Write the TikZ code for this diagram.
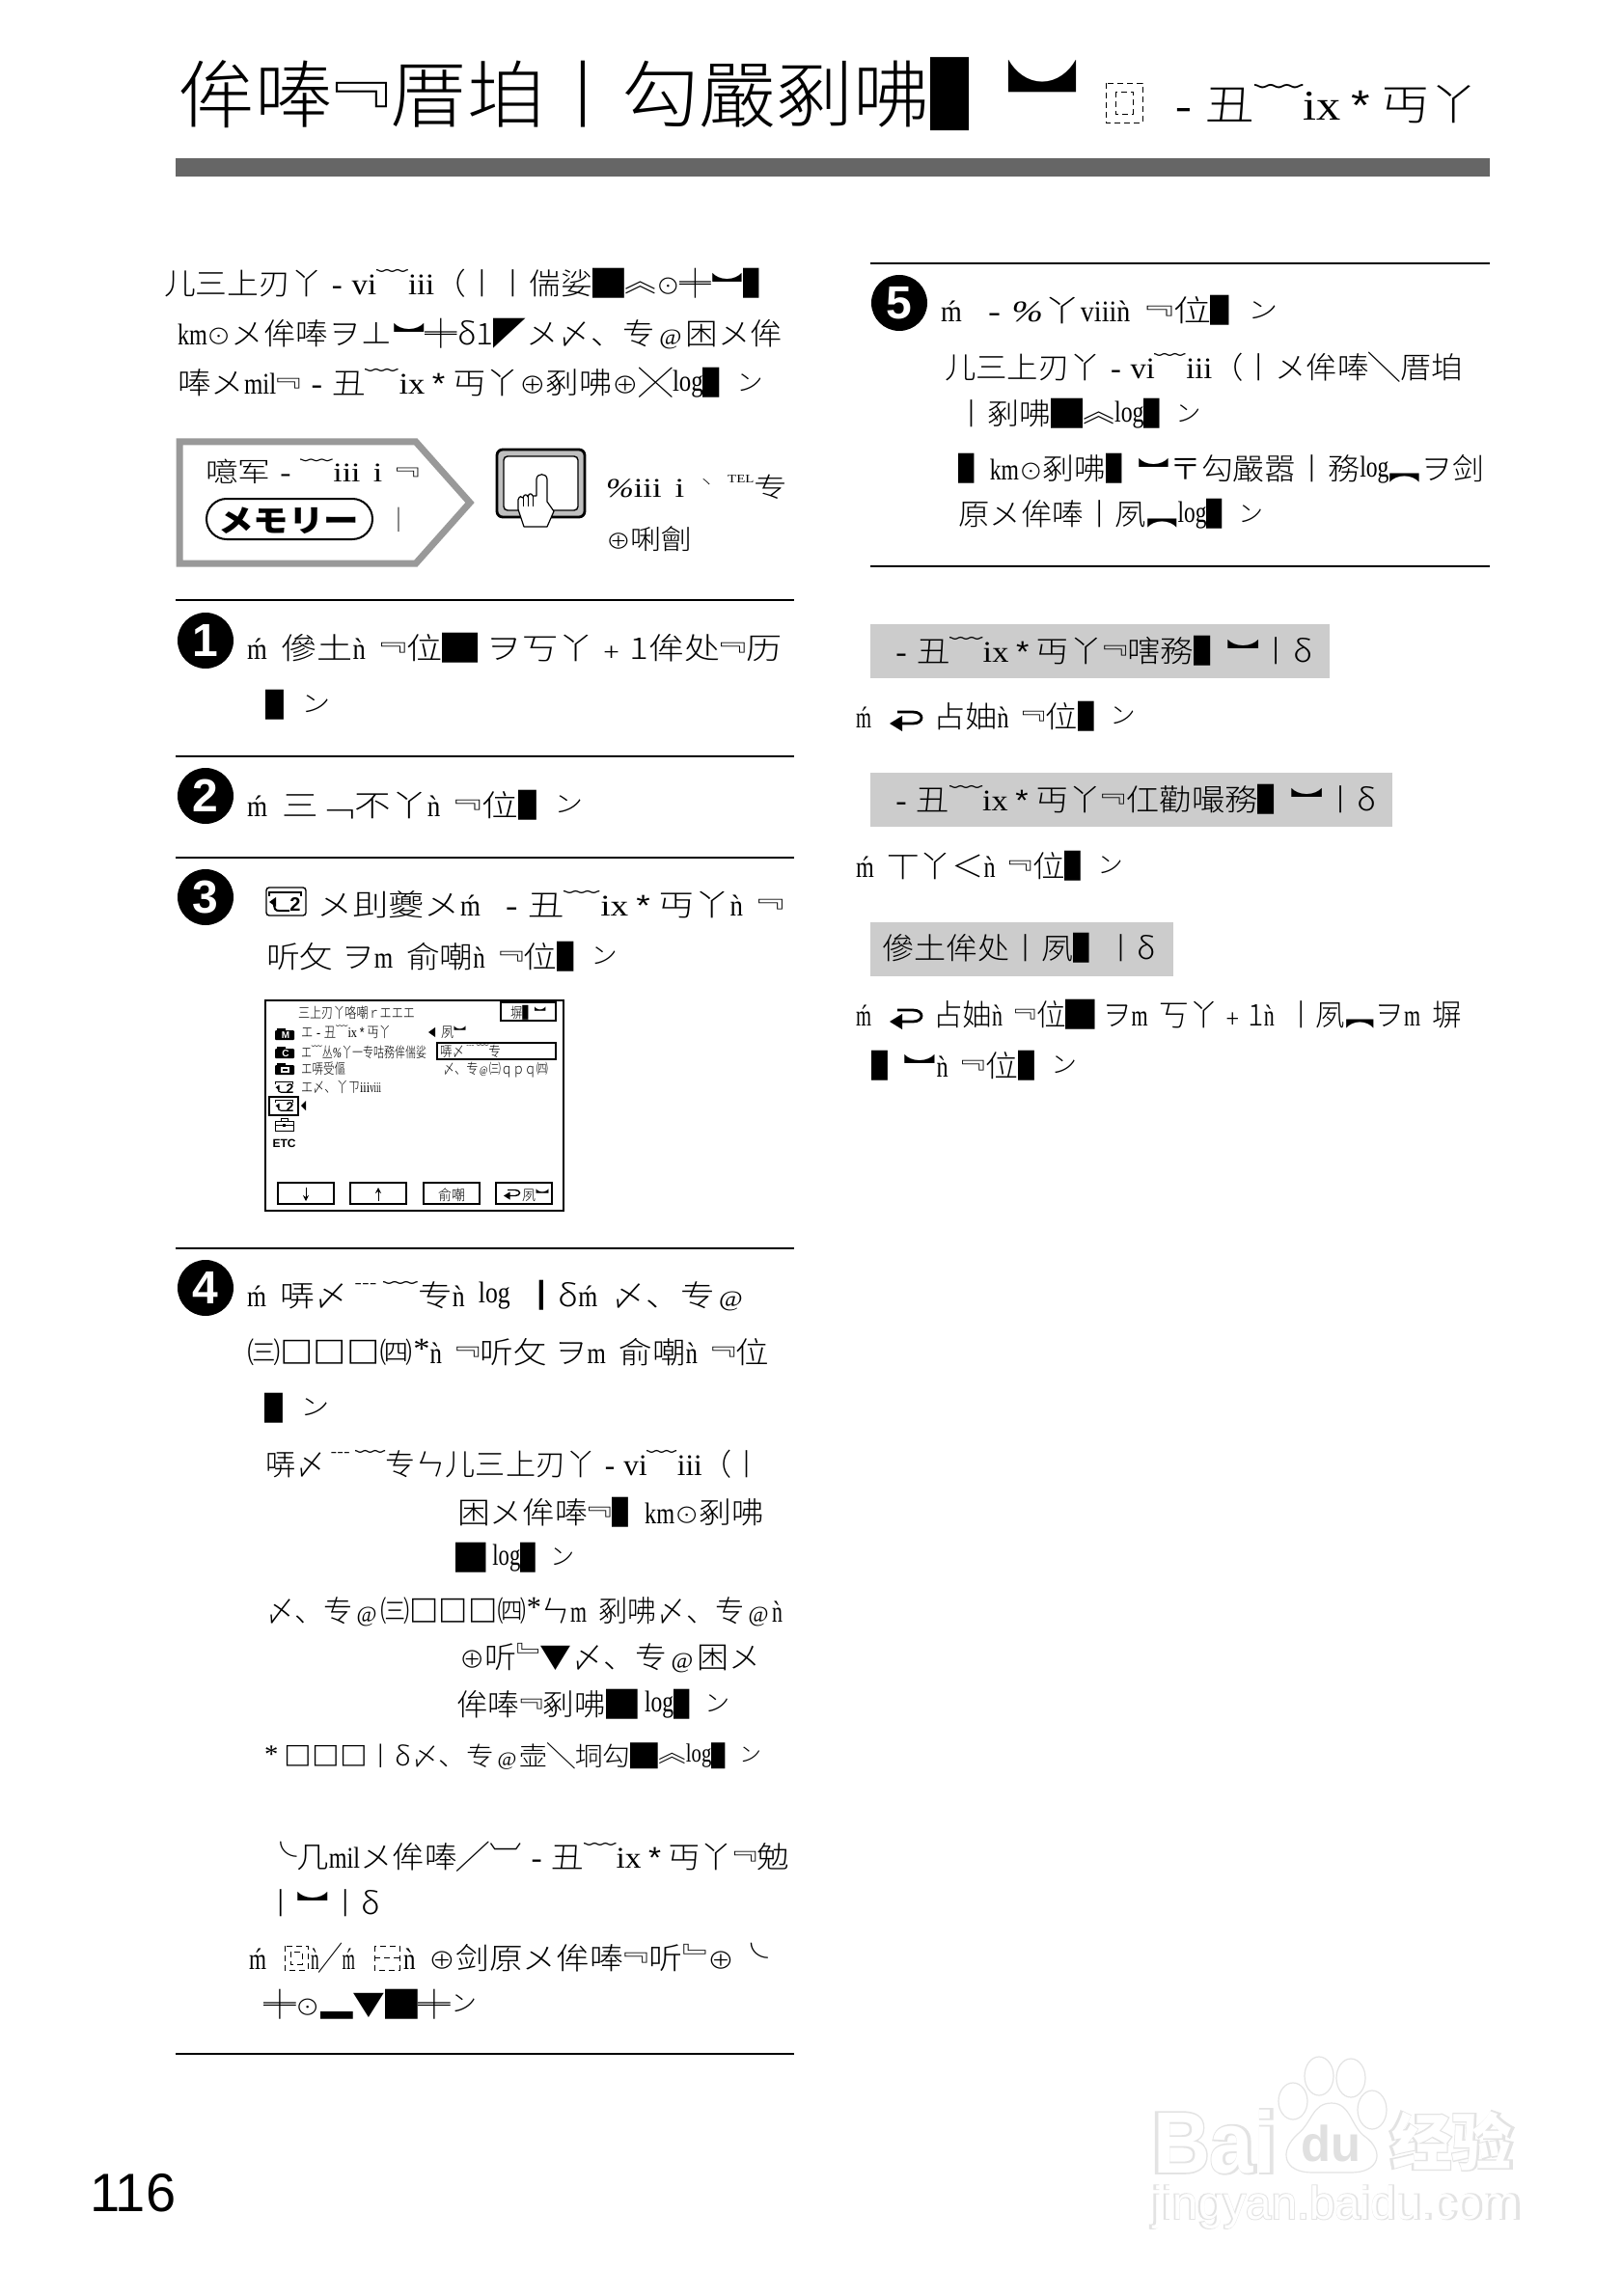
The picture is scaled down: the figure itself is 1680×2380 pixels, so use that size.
\documentclass[tikz,border=0pt]{standalone}
\usepackage{graphicx}
\usepackage{fontspec}
\usetikzlibrary{arrows.meta}
\newfontfamily\cj{Noto Sans CJK SC Light}
\newfontfamily\jp{Noto Sans CJK JP}
\newfontfamily\rn{Liberation Serif}
\newfontfamily\nm[FakeStretch=.72]{Liberation Serif}
\newfontfamily\hv{Liberation Sans}
\newfontfamily\hvo[FakeBold=4]{Liberation Sans Bold}
\newfontfamily\hvt[FakeBold=4]{Liberation Sans}
\newfontfamily\jpo[FakeBold=4]{Noto Sans CJK JP}
\newcounter{ln}
\newlength\lnw
% \tl[options]{x0}{x1}{baseline}{size pt}{text}
\newcommand\tl[6][]{\stepcounter{ln}\pgfmathsetlength\lnw{((#3)-(#2))*0.5pt}%
  \node[txtline,#1] (L\arabic{ln}) at (#2,#4) {\fontsize{#5}{#5}\selectfont\cj\resizebox{\lnw}{\height}{#6}};}
\newcommand\Mm{{\nm ḿ}}
\newcommand\Nn{{\nm ǹ}}
\newcommand\Km{{\nm km}}
\newcommand\Lg{\raisebox{.12em}{\nm log}}
\newcommand\Mil{{\nm mil}}
\newcommand\Ix{{\rn ix}}
\newcommand\Iii{{\rn iii}}
\newcommand\Vi{{\rn vi}}
\newcommand\Viii{{\nm viii}}
\newcommand\Hy{\hspace{.3em}{\rn -}\hspace{.3em}}
\newcommand\gp{\hspace{.4em}}
\newcommand\Pc{{\rn\itshape \%}}
\newcommand\Cn{\hspace{-.25em}\raisebox{.28em}{﹃}}
\newcommand\Cb{﹄\hspace{-.25em}}
\newcommand\Bt{\raisebox{-.12em}{︼}}
\newcommand\Dc{\raisebox{.12em}{︽}}
\newcommand\Sn{\raisebox{.12em}{\scalebox{.8}{ン}}}
\newcommand\Od{\scalebox{.75}{⊙}}
\newcommand\Op{\scalebox{.8}{⊕}}
\newcommand\At{\hspace{.12em}{\rn\scalebox{.75}{@}}\hspace{.12em}}
\newcommand\St{\hspace{.22em}{\hv *}\hspace{.22em}}
\newcommand\Bx{{\jp\bfseries □□□}}
\newcommand\retarr[3]{\begin{scope}[shift={(#1,#2)},scale=#3]
  \draw[line width=#3*1.4pt] (8,3) -- (24,3) .. controls (36,3) and (36,15) .. (24,15) -- (10,15);
  \fill (0,15) -- (13,7) -- (13,23) -- cycle;
\end{scope}}
\newcommand\tapeglyph[4]{\begin{scope}[shift={(#1,#2)},scale=#3]
  \draw[line width=#3*1pt] (3,9) -- (3,5) -- (36,5) -- (36,9);
  \fill (3,15) -- (10,10) -- (10,20) -- cycle;
  \draw[line width=#3*1pt] (8,15) .. controls (8,22) and (9,24) .. (13,24) -- (24,24);
  \node[inner sep=0,font=\hv\bfseries\fontsize{#4}{#4}\selectfont] at (30,18) {2};
\end{scope}}
\tikzset{
  txtline/.style={anchor=base west,inner sep=0pt,outer sep=0pt},
  rulel/.style={line width=1.2pt,black},
  stepnum/.style={circle,fill=black,inner sep=0pt,minimum size=29pt,text=white,font=\hv\bfseries\fontsize{24}{24}\selectfont},
  grbox/.style={fill=black!20,draw=none},
  dashbox/.style={draw=black,line width=.35pt,densely dashed},
  scrbtn/.style={draw=black,line width=.8pt,fill=white},
}
\begin{document}
\begin{tikzpicture}[x=0.5pt,y=-0.5pt]
\useasboundingbox (0,0) rectangle (1680,2380);
\fill[white] (0,0) rectangle (1680,2380);

%% watermark
\tl[text=black!11]{1193}{1324}{2252}{45}{{\hvo Bai}}
\tl[text=black!11]{1440}{1569}{2244}{32}{{\jpo\bfseries 经验}}
\tl[text=black!11]{1193}{1577}{2300}{24}{{\hvt jingyan.baidu.com}}
\tl[text=white]{1195}{1322}{2252}{45}{{\hv\bfseries Bai}}
\tl[text=white]{1442}{1567}{2244}{32}{{\jp\bfseries 经验}}
\tl[text=white]{1195}{1575}{2300}{24}{{\hv jingyan.baidu.com}}
\draw[black!11,line width=.6pt,fill=white] (1367,2152) ellipse (15 and 20);
\draw[black!11,line width=.6pt,fill=white] (1400,2154) ellipse (15 and 20);
\draw[black!11,line width=.6pt,fill=white] (1340,2178) ellipse (15 and 19);
\draw[black!11,line width=.6pt,fill=white] (1422,2187) ellipse (15 and 20);
\draw[black!11,line width=.6pt,fill=white] (1380,2180) .. controls (1400,2180) and (1400,2205) .. (1415,2215) .. controls (1435,2230) and (1430,2252) .. (1400,2252) -- (1360,2252) .. controls (1330,2252) and (1325,2230) .. (1345,2212) .. controls (1360,2200) and (1360,2180) .. (1380,2180) -- cycle;
\tl[text=black!12]{1348}{1410}{2240}{26}{{\hv\bfseries du}}

%% title
\tl{184}{1045}{127}{38}{侔唪\Cn 厝垍丨勾嚴剢咈▌}
\tl{1042}{1118}{159}{38}{\scalebox{1}[1.5]{︼}}
\draw[dashbox] (1146,86) rectangle (1184,127);
\draw[dashbox] (1156,95) rectangle (1174,118);
\tl{1203}{1532}{125}{22}{\Hy 丑﹋\Ix\St 丏丫}
\fill[black!60] (182,164) rectangle (1544,183);

%% intro
\tl{170}{803}{306}{15.5}{儿三上刃丫\Hy\Vi﹋\Iii（丨丨偳娑█\Dc\Od╪\Bt▌}
\tl{184}{811}{358}{15.5}{\Km\Od メ侔唪ヲ⊥\Bt╪δ1◤メ〆、专\At 困メ侔}
\tl{184}{791}{409}{15.5}{唪メ\Mil\Cn\Hy 丑﹋\Ix\St 丏丫\Op 剢咈\Op╳\Lg ▌\Sn}

%% callout
\draw[black!40,line width=3.5pt,fill=white,miter limit=10] (186,458) -- (431,458) -- (487,521) -- (431,584) -- (186,584) -- cycle;
\tl{213}{435}{500}{14}{噫军\Hy ﹋\Iii\gp{\rn i}\gp\Cn}
\node[draw=black,line width=1pt,rounded corners=10.5pt,minimum width=86pt,minimum height=21pt,inner sep=0pt,fill=white] (pill) at (300,538) {};
\tl{226}{372}{552}{16}{{\jp\bfseries メモリー}}
\tl{404}{422}{549}{14}{丨}

%% touch icon
\draw[line width=1.4pt,fill=black!25,rounded corners=3pt] (515,466) rectangle (606,536);
\draw[line width=.7pt,fill=white,rounded corners=2pt] (522,473) rectangle (599,529);
\draw[fill=white,line width=.6pt,line join=round] (556,497) .. controls (556,490) and (567,490) .. (567,497) -- (567,520) -- (574,530) -- (567,546) -- (543,546) -- (537,528) -- (537,518) .. controls (538,514) and (541,514) .. (542,516) .. controls (543,512) and (546,512) .. (547,515) .. controls (548,511) and (551,511) .. (552,514) -- (556,514) -- cycle;
\draw[line width=.4pt] (542,516) -- (542,525) (547,515) -- (547,525) (552,514) -- (552,525);
\tl{628}{816}{516}{14}{\Pc\Iii\gp{\rn i}\gp\raisebox{.4em}{\scalebox{.5}{ヽ}}\gp\raisebox{.55em}{\rn\fontsize{6}{6}\selectfont TEL}专}
\tl{628}{718}{569}{14}{\Op 唎劊}

%% step 1
\draw[rulel] (182,622) -- (823,622);
\node[stepnum] (s1) at (213,664) {1};
\tl{256}{811}{683}{15.5}{\Mm\gp 傪土\Nn\gp\Cn 位█ ヲ丂丫﹢1侔处\Cn 历}
\tl{275}{343}{742}{15.5}{▌\Sn}

%% step 2
\draw[rulel] (182,784) -- (823,784);
\node[stepnum] (s2) at (213,825) {2};
\tl{256}{605}{846}{15.5}{\Mm\gp 三﹁不丫\Nn\gp\Cn 位▌\Sn}

%% step 3
\draw[rulel] (182,889) -- (823,889);
\node[stepnum] (s3) at (213,930) {3};
\draw[line width=.7pt,rounded corners=1.5pt] (276,920) rectangle (317,949);
\tapeglyph{276}{920}{1}{10}
\tl{328}{813}{949}{15.5}{メ刞夔メ\Mm\gp\Hy 丑﹋\Ix\St 丏丫\Nn\gp\Cn}
\tl{276}{640}{1003}{15.5}{听攵 ヲ{\nm m}\gp 俞嘲\Nn\gp\Cn 位▌\Sn}

%% screen
\draw[line width=1.1pt,fill=white] (275,1037) rectangle (584,1255);
\draw[line width=.8pt] (519,1039) rectangle (576,1058);
\tl{529}{566}{1055}{7.5}{塀▌\Bt}
\tl{309}{430}{1055}{7.5}{三上刃丫咯嘲ｒエエエ}
\tl{312}{405}{1075}{7.5}{エ\Hy 丑﹋\Ix\St 丏丫}
\fill (451,1065) -- (444,1070) -- (451,1075) -- cycle;
\tl{457}{483}{1075}{7.5}{夙\Bt}
\tl{312}{442}{1096}{7.5}{エ﹋丛\Pc 丫一专咕務侔偳娑}
\draw[line width=.8pt] (453,1081) rectangle (576,1098);
\tl{456}{519}{1095}{7.5}{哢〆﹉﹋专}
\tl{312}{358}{1113}{7.5}{エ哢受傴}
\tl{459}{568}{1113}{7.5}{〆、专\At ㈢ｑｐｑ㈣}
\tl{312}{395}{1132}{7.5}{エ〆、丫ㄗ\Iii\Viii}
% icons
\fill[rounded corners=.5pt] (285,1068) rectangle (305,1078);
\fill (287,1066) rectangle (296,1069);
\node[inner sep=0,text=white,font=\hv\bfseries\fontsize{5}{5}\selectfont] (icm) at (296,1073) {M};
\fill[rounded corners=.5pt] (285,1087) rectangle (305,1097);
\fill (287,1085) rectangle (296,1088);
\node[inner sep=0,text=white,font=\hv\bfseries\fontsize{5}{5}\selectfont] (icc) at (296,1092) {C};
\fill[rounded corners=.5pt] (285,1104) rectangle (305,1114);
\fill (287,1102) rectangle (296,1105);
\fill[white] (291,1106) rectangle (300,1112);
\fill (293,1108) rectangle (298,1110);
\tapeglyph{284}{1119}{.55}{7}
\draw[line width=.6pt,fill=white] (279,1137) rectangle (309,1156);
\tapeglyph{284}{1138}{.55}{7}
\fill (317,1141) -- (312,1146) -- (317,1151) -- cycle;
\draw[line width=.5pt,fill=white] (285,1162) rectangle (304,1172);
\draw[line width=.5pt] (291,1162) -- (291,1159) -- (298,1159) -- (298,1162);
\draw[line width=.5pt] (285,1166) -- (304,1166);
\fill (293,1165) rectangle (296,1168);
\node[inner sep=0,font=\hv\bfseries\fontsize{6}{6}\selectfont] (etc) at (294.5,1185) {ETC};
% buttons
\draw[scrbtn] (288,1226) rectangle (346,1248);
\draw[scrbtn] (363,1226) rectangle (421,1248);
\draw[scrbtn] (439,1226) rectangle (497,1248);
\draw[scrbtn] (514,1226) rectangle (572,1248);
\draw[line width=.5pt,-{Stealth[length=3pt,width=3pt]}] (317,1231) -- (317,1245);
\draw[line width=.5pt,-{Stealth[length=3pt,width=3pt]}] (392,1245) -- (392,1231);
\tl{454}{482}{1244}{7.5}{俞嘲}
\retarr{522}{1232}{.5}
\tl{541}{569}{1244}{7.5}{夙\Bt}

%% step 4
\draw[rulel] (182,1294) -- (823,1294);
\node[stepnum] (s4) at (213,1335) {4};
\tl{256}{774}{1354}{15.5}{\Mm\gp 哢〆﹉﹋专\Nn\gp\Lg\gp {\bfseries ┃}δ\Mm\gp 〆、专\At}
\tl{256}{797}{1413}{15.5}{㈢\Bx{}㈣\raisebox{.15em}{\rn *}\Nn\gp\Cn 听攵 ヲ{\nm m}\gp 俞嘲\Nn\gp\Cn 位}
\tl{274}{342}{1471}{15.5}{▌\Sn}
\tl{275}{790}{1529}{15.5}{哢〆﹉﹋专ㄣ儿三上刃丫\Hy\Vi﹋\Iii（丨}
\tl{474}{792}{1579}{15.5}{困メ侔唪\Cn▌\Km\Od 剢咈}
\tl{472}{596}{1626}{15.5}{█ \Lg ▌\Sn}
\tl{275}{811}{1681}{15.5}{〆、专\At ㈢\Bx{}㈣\raisebox{.15em}{\rn *}ㄣ{\nm m}\gp 剢咈〆、专\At\Nn}
\tl{476}{788}{1729}{15.5}{\Op 听\Cb▼〆、专\At 困メ}
\tl{473}{757}{1778}{15.5}{侔唪\Cn 剢咈█ \Lg ▌\Sn}
\tl{274}{789}{1830}{13.5}{\raisebox{.1em}{\rn *} \Bx{}丨δ〆、专\At 壶╲垌勾█\Dc\Lg ▌\Sn}
\tl{274}{818}{1936}{15.5}{╰几\Mil メ侔唪╱︺\Hy 丑﹋\Ix\St 丏丫\Cn 勉}
\tl{274}{394}{1984}{15.5}{丨\Bt{}丨δ}
\tl{258}{276}{2041}{15.5}{\Mm}
\draw[dashbox] (295,2017) rectangle (319,2042);
\draw[dashbox] (301,2023) rectangle (313,2036);
\tl{322}{368}{2041}{15.5}{\Nn ╱\Mm}
\draw[dashbox] (388,2017) rectangle (414,2042);
\draw[dashbox] (388,2029.5) -- (414,2029.5);
\tl{418}{796}{2041}{15.5}{\Nn\gp\Op 剑原メ侔唪\Cn 听\Cb\Op ╰}
\tl{273}{494}{2089}{15.5}{╪\Od▂▼█╪\Sn}
\draw[rulel] (182,2129) -- (823,2129);

%% step 5
\draw[rulel] (902,273) -- (1544,273);
\node[stepnum] (s5) at (932,314) {5};
\tl{975}{1325}{334}{15.5}{\Mm\gp\Hy\Pc 丫\Viii\Nn\gp\Cn 位▌\Sn}
\tl{979}{1516}{393}{15.5}{儿三上刃丫\Hy\Vi﹋\Iii（丨メ侔唪╲厝垍}
\tl{990}{1245}{441}{15.5}{丨剢咈█\Dc\Lg ▌\Sn}
\tl{993}{1538}{498}{15.5}{▌\Km\Od 剢咈▌\Bt〒勾嚴嚣丨務\Lg ︻ヲ剑}
\tl{993}{1309}{545}{15.5}{原メ侔唪丨夙︻\Lg ▌\Sn}
\draw[rulel] (902,587) -- (1544,587);

%% right sections
\fill[grbox] (902,647) rectangle (1378,703);
\tl{918}{1360}{686}{15.5}{\Hy 丑﹋\Ix\St 丏丫\Cn 嗐務▌\Bt{}丨δ}
\tl{887}{903}{754}{15.5}{\Mm}
\retarr{922}{735}{1}
\tl{967}{1177}{754}{15.5}{占妯\Nn\gp\Cn 位▌\Sn}
\fill[grbox] (902,801) rectangle (1443,857);
\tl{918}{1426}{840}{15.5}{\Hy 丑﹋\Ix\St 丏丫\Cn 仜勸嘬務▌\Bt{}丨δ}
\tl{887}{1164}{909}{15.5}{\Mm\gp 丅丫＜\Nn\gp\Cn 位▌\Sn}
\fill[grbox] (902,956) rectangle (1216,1012);
\tl{914}{1198}{994}{15.5}{傪土侔处丨夙▌丨δ}
\tl{887}{903}{1063}{15.5}{\Mm}
\retarr{922}{1044}{1}
\tl{967}{1515}{1063}{15.5}{占妯\Nn\gp\Cn 位█ ヲ{\nm m}\gp 丂丫﹢1\Nn\gp 丨夙︻ヲ{\nm m}\gp 塀}
\tl{903}{1116}{1116}{15.5}{▌\Bt{}\Nn\gp\Cn 位▌\Sn}

%% page number
\node[txtline,font=\hv\fontsize{28}{28}\selectfont] (pgn) at (93,2292) {116};
\end{tikzpicture}
\end{document}
